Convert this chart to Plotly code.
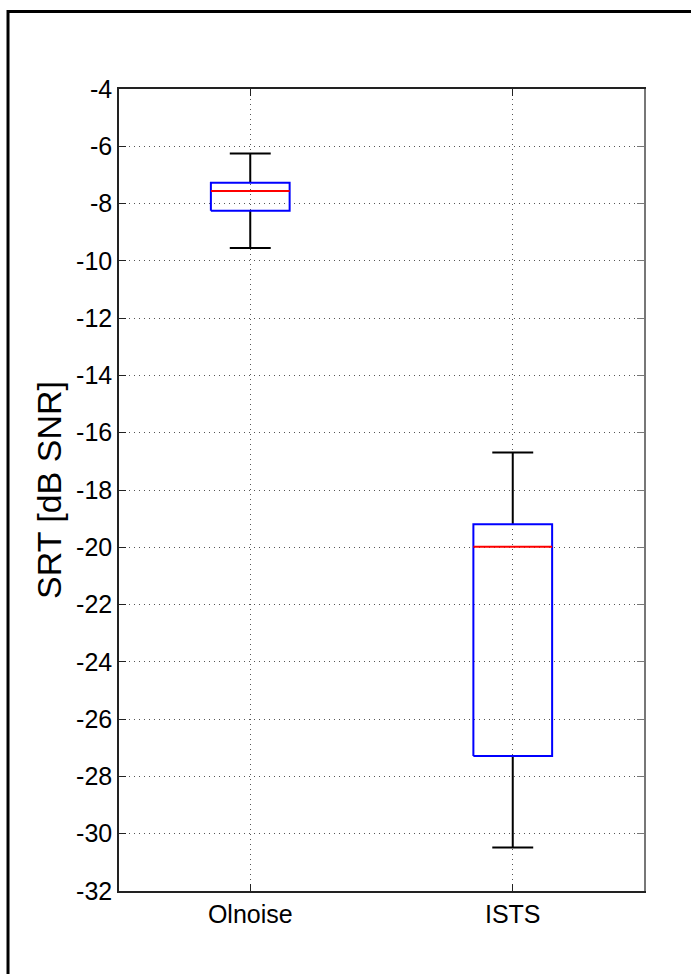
import plotly.graph_objects as go

categories = ["Olnoise", "ISTS"]
positions = [1, 2]
lower_whisker = [-9.55, -30.48]
q1 = [-8.25, -27.29]
median = [-7.56, -19.98]
q3 = [-7.27, -19.20]
upper_whisker = [-6.25, -16.69]

y_ticks = list(range(-32, -3, 2))

BOX_HALF = 0.15
CAP_HALF = 0.078

wx, wy = [], []
bx, by = [], []
mx, my = [], []
for p, lo, a, m, b, hi in zip(positions, lower_whisker, q1, median, q3, upper_whisker):
    wx += [p, p, None, p, p, None, p - CAP_HALF, p + CAP_HALF, None, p - CAP_HALF, p + CAP_HALF, None]
    wy += [b, hi, None, a, lo, None, hi, hi, None, lo, lo, None]
    bx += [p - BOX_HALF, p + BOX_HALF, p + BOX_HALF, p - BOX_HALF, p - BOX_HALF, None]
    by += [a, a, b, b, a, None]
    mx += [p - BOX_HALF, p + BOX_HALF, None]
    my += [m, m, None]

fig = go.Figure()
fig.add_trace(go.Scatter(x=wx, y=wy, mode="lines", line=dict(color="black", width=2),
                         showlegend=False, hoverinfo="skip"))
fig.add_trace(go.Scatter(x=bx, y=by, mode="lines", line=dict(color="#0000FF", width=2),
                         showlegend=False, hoverinfo="skip"))
fig.add_trace(go.Scatter(x=mx, y=my, mode="lines", line=dict(color="#FF0000", width=2),
                         showlegend=False, hoverinfo="skip"))
# invisible trace for the right-hand axis
fig.add_trace(go.Scatter(x=[positions[0]], y=[median[0]], yaxis="y2", mode="markers",
                         marker=dict(opacity=0), showlegend=False, hoverinfo="skip"))

font = "Liberation Sans, Arial, sans-serif"
grid = dict(showgrid=True, gridcolor="#555555", gridwidth=1, griddash="1px,4px")

fig.update_layout(
    width=691, height=974,
    margin=dict(l=119, r=47, t=89, b=83),
    paper_bgcolor="white", plot_bgcolor="white",
    font=dict(family=font, size=25, color="black"),
    xaxis=dict(range=[0.5, 2.5], tickvals=positions, ticktext=categories,
               ticks="inside", ticklen=7, tickcolor="#222222", tickwidth=1,
               showline=True, linecolor="#222222", linewidth=1.5, mirror="ticks",
               zeroline=False, tickfont=dict(size=25), **grid),
    yaxis=dict(range=[-32, -4], tickvals=y_ticks, ticktext=[str(v) for v in y_ticks],
               ticks="inside", ticklen=7, tickcolor="#222222", tickwidth=1,
               showline=True, linecolor="#222222", linewidth=1.5, mirror=False,
               zeroline=False, tickfont=dict(size=25),
               title=dict(text="SRT [dB SNR]", font=dict(size=34), standoff=4), **grid),
    yaxis2=dict(range=[-32, -4], overlaying="y", side="right", tickvals=y_ticks,
                showticklabels=False, ticks="inside", ticklen=7, tickcolor="#777777",
                showline=True, linecolor="#777777", linewidth=2, showgrid=False,
                zeroline=False),
    shapes=[dict(type="rect", xref="paper", yref="paper",
                 x0=-0.2114, x1=1.25, y0=-0.25, y1=1.0965,
                 line=dict(color="black", width=3), fillcolor="rgba(0,0,0,0)")],
)

fig.write_html("out.html")
